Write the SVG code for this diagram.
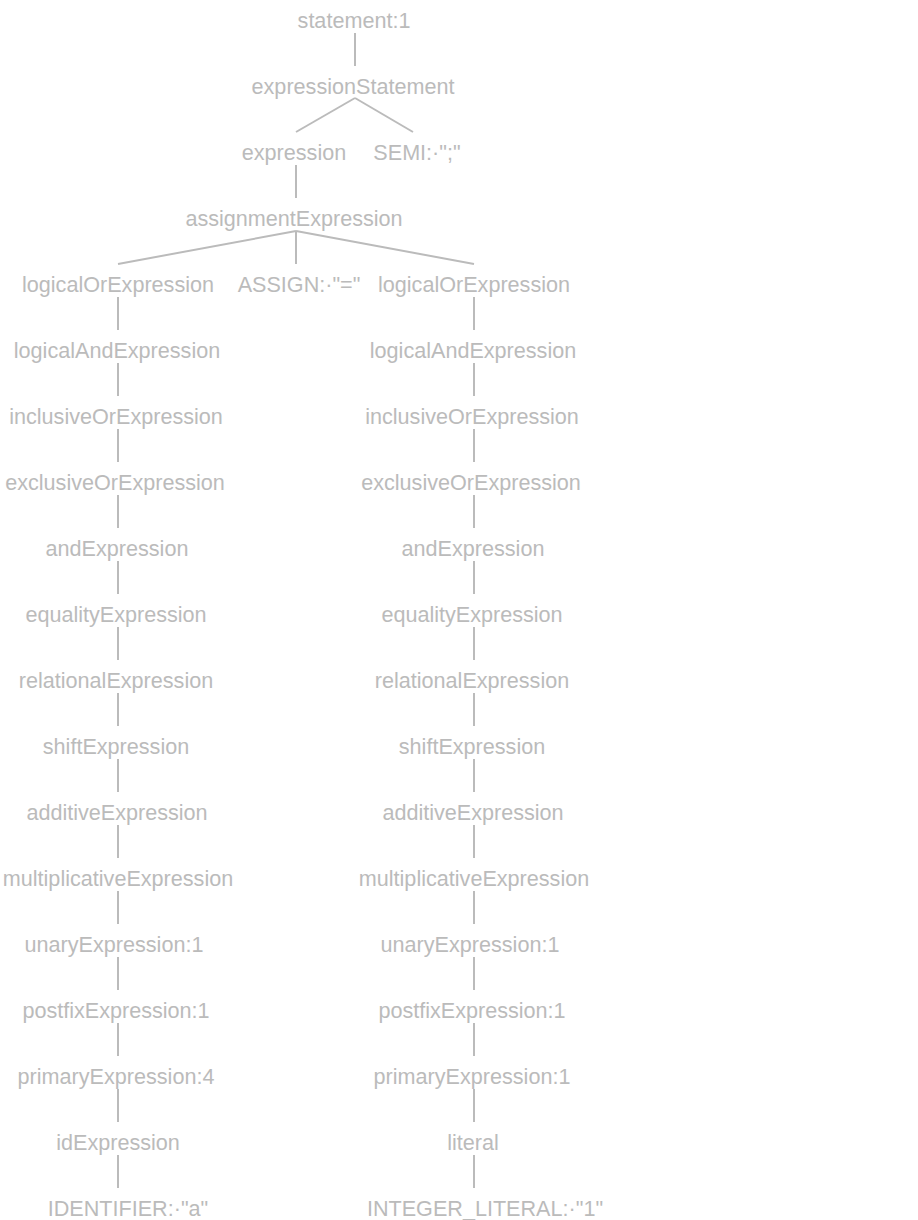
<svg xmlns="http://www.w3.org/2000/svg" width="918" height="1220" viewBox="0 0 918 1220">
<style>
text{font-family:"Liberation Sans",Arial,sans-serif;font-size:21.6px;fill:#bbbbbb;text-anchor:middle}
.e line{stroke:#bbbbbb;stroke-width:2}
</style>
<rect width="918" height="1220" fill="#ffffff"/>
<g class="e" id="edges">
<line x1="355" y1="33" x2="355" y2="66"/>
<line x1="355" y1="98" x2="296" y2="132"/>
<line x1="355" y1="98" x2="413" y2="132"/>
<line x1="296" y1="165" x2="296" y2="198"/>
<line x1="296" y1="231" x2="118" y2="264"/>
<line x1="296" y1="231" x2="296" y2="264"/>
<line x1="296" y1="231" x2="474" y2="264"/>
<line x1="118" y1="297" x2="118" y2="330"/><line x1="474" y1="297" x2="474" y2="330"/>
<line x1="118" y1="363" x2="118" y2="396"/><line x1="474" y1="363" x2="474" y2="396"/>
<line x1="118" y1="429" x2="118" y2="462"/><line x1="474" y1="429" x2="474" y2="462"/>
<line x1="118" y1="495" x2="118" y2="528"/><line x1="474" y1="495" x2="474" y2="528"/>
<line x1="118" y1="561" x2="118" y2="594"/><line x1="474" y1="561" x2="474" y2="594"/>
<line x1="118" y1="627" x2="118" y2="660"/><line x1="474" y1="627" x2="474" y2="660"/>
<line x1="118" y1="693" x2="118" y2="726"/><line x1="474" y1="693" x2="474" y2="726"/>
<line x1="118" y1="759" x2="118" y2="792"/><line x1="474" y1="759" x2="474" y2="792"/>
<line x1="118" y1="825" x2="118" y2="858"/><line x1="474" y1="825" x2="474" y2="858"/>
<line x1="118" y1="891" x2="118" y2="924"/><line x1="474" y1="891" x2="474" y2="924"/>
<line x1="118" y1="957" x2="118" y2="990"/><line x1="474" y1="957" x2="474" y2="990"/>
<line x1="118" y1="1023" x2="118" y2="1056"/><line x1="474" y1="1023" x2="474" y2="1056"/>
<line x1="118" y1="1089" x2="118" y2="1122"/><line x1="474" y1="1089" x2="474" y2="1122"/>
<line x1="118" y1="1155" x2="118" y2="1188"/><line x1="474" y1="1155" x2="474" y2="1188"/>
</g>
<g id="n0"><text x="354" y="28">statement:1</text></g>
<g id="n1"><text x="353" y="94">expressionStatement</text></g>
<g id="n2"><text x="294" y="160">expression</text></g>
<g id="n3"><text x="417" y="160">SEMI:·";"</text></g>
<g id="n4"><text x="294" y="226">assignmentExpression</text></g>
<g id="n5"><text x="118" y="292">logicalOrExpression</text></g>
<g id="n6"><text x="299" y="292">ASSIGN:·"="</text></g>
<g id="n7"><text x="474" y="292">logicalOrExpression</text></g>
<g id="l1"><text x="117" y="358">logicalAndExpression</text></g>
<g id="l2"><text x="116" y="424">inclusiveOrExpression</text></g>
<g id="l3"><text x="115" y="490">exclusiveOrExpression</text></g>
<g id="l4"><text x="117" y="556">andExpression</text></g>
<g id="l5"><text x="116" y="622">equalityExpression</text></g>
<g id="l6"><text x="116" y="688">relationalExpression</text></g>
<g id="l7"><text x="116" y="754">shiftExpression</text></g>
<g id="l8"><text x="117" y="820">additiveExpression</text></g>
<g id="l9"><text x="118" y="886">multiplicativeExpression</text></g>
<g id="l10"><text x="114" y="952">unaryExpression:1</text></g>
<g id="l11"><text x="116" y="1018">postfixExpression:1</text></g>
<g id="l12"><text x="116" y="1084">primaryExpression:4</text></g>
<g id="l13"><text x="118" y="1150">idExpression</text></g>
<g id="l14"><text x="128" y="1216">IDENTIFIER:·"a"</text></g>
<g id="r1"><text x="473" y="358">logicalAndExpression</text></g>
<g id="r2"><text x="472" y="424">inclusiveOrExpression</text></g>
<g id="r3"><text x="471" y="490">exclusiveOrExpression</text></g>
<g id="r4"><text x="473" y="556">andExpression</text></g>
<g id="r5"><text x="472" y="622">equalityExpression</text></g>
<g id="r6"><text x="472" y="688">relationalExpression</text></g>
<g id="r7"><text x="472" y="754">shiftExpression</text></g>
<g id="r8"><text x="473" y="820">additiveExpression</text></g>
<g id="r9"><text x="474" y="886">multiplicativeExpression</text></g>
<g id="r10"><text x="470" y="952">unaryExpression:1</text></g>
<g id="r11"><text x="472" y="1018">postfixExpression:1</text></g>
<g id="r12"><text x="472" y="1084">primaryExpression:1</text></g>
<g id="r13"><text x="473" y="1150">literal</text></g>
<g id="r14"><text x="485" y="1216">INTEGER_LITERAL:·"1"</text></g>
</svg>
